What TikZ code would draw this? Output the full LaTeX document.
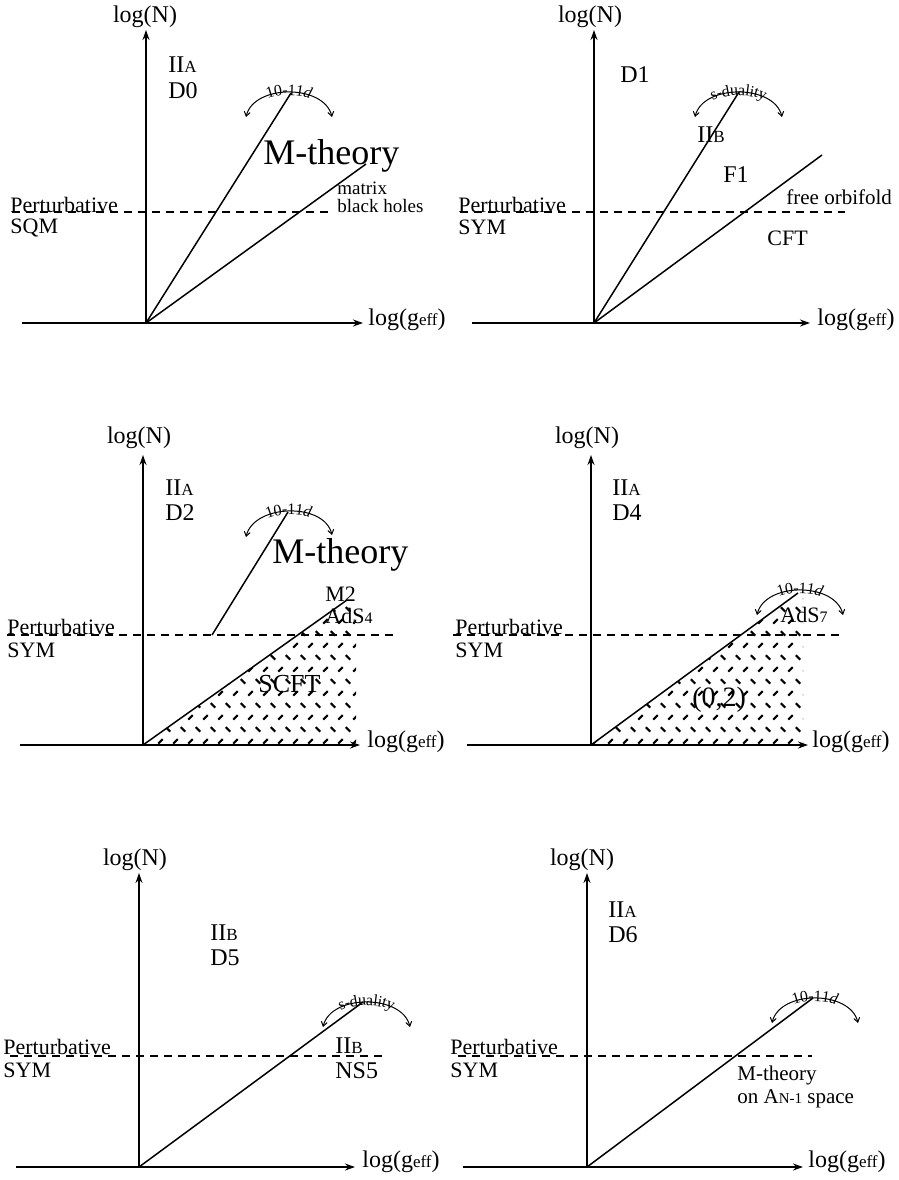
\documentclass[tikz,border=0pt]{standalone}
\usepackage{fontspec}
\setmainfont{Liberation Serif}
\usetikzlibrary{arrows.meta, patterns, decorations.text}

\newcommand{\lowsub}[2][8.5]{{\fontsize{#1}{#1}\selectfont #2}}

\pgfdeclarepatternformonly{dashcross}{\pgfqpoint{-1pt}{-1pt}}{\pgfqpoint{8.5pt}{13pt}}{\pgfqpoint{7.5pt}{12pt}}{%
  \pgfsetlinewidth{1pt}
  \pgfpathmoveto{\pgfqpoint{0.4pt}{10.4pt}}\pgfpathlineto{\pgfqpoint{2.6pt}{8.2pt}}
  \pgfpathmoveto{\pgfqpoint{4.15pt}{2.2pt}}\pgfpathlineto{\pgfqpoint{6.35pt}{4.4pt}}
  \pgfusepath{stroke}}

\tikzset{
  axis/.style={line width=0.75pt, -{Stealth[length=5pt,width=3.5pt]}},
  regime/.style={line width=0.75pt},
  pert/.style={line width=0.6pt, dash pattern=on 4pt off 3pt},
  duality/.style={line width=0.5pt, {Straight Barb[length=2.2pt,width=3pt]}-{Straight Barb[length=2.2pt,width=3pt]}},
  dualtext/.style={decorate, decoration={text along path, text align=center, raise=-1.5pt}},
  axislabel/.style={inner sep=0pt, font=\fontsize{12}{14}\selectfont},
  pertlabel/.style={inner sep=0pt, font=\fontsize{11}{13}\selectfont, anchor=base west},
  region/.style={inner sep=0pt, font=\fontsize{12}{14}\selectfont, anchor=base west},
  note/.style={inner sep=0pt, font=\fontsize{9.5}{11}\selectfont, anchor=base west},
  bigregion/.style={inner sep=0pt, font=\fontsize{18}{20}\selectfont, anchor=base west},
}

\begin{document}
\begin{tikzpicture}[x=0.5pt, y=-0.5pt]
    \useasboundingbox (0,0) rectangle (899,1180);

    % D0
    \coordinate (o1) at (146,323);
    \coordinate (top1) at (146,30);
    \coordinate (xa1) at (22,323);
    \coordinate (xb1) at (363,323);
    \coordinate (ea1) at (291,93);
    \coordinate (eb1) at (366,164);
    \coordinate (pa1) at (12,212);
    \coordinate (pb1) at (333,212);
    \coordinate (l1) at (246,117);
    \coordinate (r1) at (332,117);
    \draw[axis] (o1) -- (top1);
    \draw[axis] (xa1) -- (xb1);
    \draw[regime] (o1) -- (ea1);
    \draw[regime] (o1) -- (eb1);
    \draw[pert] (pa1) -- (pb1);
    \draw[duality] (l1) .. controls +(8,-33) and +(-8,-33) .. (r1);
    \path[dualtext, decoration={text={|\fontsize{8}{9}\selectfont|10-11|\fontsize{8}{9}\selectfont\itshape|d}}] (l1) .. controls +(8,-33) and +(-8,-33) .. (r1);
    \node[axislabel, anchor=base] (ny1) at (145,22) {log(N)};
    \node[axislabel, anchor=base west] (nx1) at (368,325) {log(g\lowsub{eff})};
    \node[region] (t1) at (168,72) {II\lowsub{A}};
    \node[region] (d1) at (168,98) {D0};
    \node[bigregion] (m1) at (263,164) {M-theory};
    \node[note] (bh1) at (337,194) {matrix};
    \node[note] (bh1b) at (337,212) {black holes};
    \node[pertlabel] (pt1) at (10,212) {Perturbative};
    \node[pertlabel] (ps1) at (10,233) {SQM};

    % D1
    \coordinate (o2) at (594,323);
    \coordinate (top2) at (594,30);
    \coordinate (xa2) at (472,323);
    \coordinate (xb2) at (810,323);
    \coordinate (ea2) at (739,92);
    \coordinate (eb2) at (822,155);
    \coordinate (pa2) at (460,212);
    \coordinate (pb2) at (845,212);
    \coordinate (l2) at (695,117);
    \coordinate (r2) at (782,117);
    \draw[axis] (o2) -- (top2);
    \draw[axis] (xa2) -- (xb2);
    \draw[regime] (o2) -- (ea2);
    \draw[regime] (o2) -- (eb2);
    \draw[pert] (pa2) -- (pb2);
    \draw[duality] (l2) .. controls +(8,-33) and +(-8,-33) .. (r2);
    \path[dualtext, decoration={text={|\fontsize{8}{9}\selectfont|s-duality}}] (l2) .. controls +(8,-33) and +(-8,-33) .. (r2);
    \node[axislabel, anchor=base] (ny2) at (590,22) {log(N)};
    \node[axislabel, anchor=base west] (nx2) at (817,325) {log(g\lowsub{eff})};
    \node[region] (d2) at (620,82) {D1};
    \node[region] (t2) at (697,142) {II\lowsub{B}};
    \node[region] (f2) at (723,182) {F1};
    \node[note, font=\fontsize{10.5}{12}\selectfont] (fo2) at (786,204) {free orbifold};
    \node[region, font=\fontsize{11}{13}\selectfont] (c2) at (767,245) {CFT};
    \node[pertlabel] (pt2) at (458,212) {Perturbative};
    \node[pertlabel] (ps2) at (458,234) {SYM};

    % D2
    \coordinate (o3) at (143,745);
    \coordinate (top3) at (143,455);
    \coordinate (xa3) at (20,745);
    \coordinate (xb3) at (360,745);
    \coordinate (sa3) at (212,635);
    \coordinate (ea3) at (288,512);
    \coordinate (eb3) at (347,600);
    \coordinate (ha3) at (356,600);
    \coordinate (hb3) at (356,745);
    \coordinate (pa3) at (7,635);
    \coordinate (pb3) at (395,635);
    \coordinate (l3) at (246,537);
    \coordinate (r3) at (332,535);
    \fill[pattern=dashcross] (o3) -- (eb3) -- (ha3) -- (hb3) -- cycle;
    \draw[axis] (o3) -- (top3);
    \draw[axis] (xa3) -- (xb3);
    \draw[regime] (sa3) -- (ea3);
    \draw[regime] (o3) -- (eb3);
    \draw[pert] (pa3) -- (pb3);
    \draw[duality] (l3) .. controls +(8,-33) and +(-8,-33) .. (r3);
    \path[dualtext, decoration={text={|\fontsize{8}{9}\selectfont|10-11|\fontsize{8}{9}\selectfont\itshape|d}}] (l3) .. controls +(8,-33) and +(-8,-33) .. (r3);
    \node[axislabel, anchor=base] (ny3) at (139,443) {log(N)};
    \node[axislabel, anchor=base west] (nx3) at (367,747) {log(g\lowsub{eff})};
    \node[region] (t3) at (165,495) {II\lowsub{A}};
    \node[region] (d3) at (165,520) {D2};
    \node[bigregion] (m3) at (272,563) {M-theory};
    \node[region, font=\fontsize{11}{13}\selectfont] (a3) at (325,601) {M2};
    \node[region, font=\fontsize{11}{13}\selectfont] (a3b) at (325,623) {AdS\lowsub[8]{4}};
    \node[region, font=\fontsize{13}{15}\selectfont] (s3) at (258,692) {SCFT};
    \node[pertlabel] (pt3) at (7,634) {Perturbative};
    \node[pertlabel] (ps3) at (7,657) {SYM};

    % D4
    \coordinate (o4) at (591,745);
    \coordinate (top4) at (591,455);
    \coordinate (xa4) at (467,745);
    \coordinate (xb4) at (808,745);
    \coordinate (eb4) at (798,593);
    \coordinate (ha4) at (803,593);
    \coordinate (hb4) at (803,745);
    \coordinate (pa4) at (453,635);
    \coordinate (pb4) at (842,635);
    \coordinate (l4) at (757,615);
    \coordinate (r4) at (843,615);
    \fill[pattern=dashcross] (o4) -- (eb4) -- (ha4) -- (hb4) -- cycle;
    \draw[axis] (o4) -- (top4);
    \draw[axis] (xa4) -- (xb4);
    \draw[regime] (o4) -- (eb4);
    \draw[pert] (pa4) -- (pb4);
    \draw[duality] (l4) .. controls +(8,-33) and +(-8,-33) .. (r4);
    \path[dualtext, decoration={text={|\fontsize{8}{9}\selectfont|10-11|\fontsize{8}{9}\selectfont\itshape|d}}] (l4) .. controls +(8,-33) and +(-8,-33) .. (r4);
    \node[axislabel, anchor=base] (ny4) at (587,443) {log(N)};
    \node[axislabel, anchor=base west] (nx4) at (812,747) {log(g\lowsub{eff})};
    \node[region] (t4) at (612,495) {II\lowsub{A}};
    \node[region] (d4) at (612,520) {D4};
    \node[region, font=\fontsize{11}{13}\selectfont] (a4) at (780,622) {AdS\lowsub[8]{7}};
    \node[region, font=\fontsize{14}{16}\selectfont] (z4) at (692,706) {(0,2)};
    \node[pertlabel] (pt4) at (455,634) {Perturbative};
    \node[pertlabel] (ps4) at (455,657) {SYM};

    % D5
    \coordinate (o5) at (139,1167);
    \coordinate (top5) at (139,873);
    \coordinate (xa5) at (16,1167);
    \coordinate (xb5) at (355,1167);
    \coordinate (eb5) at (363,1002);
    \coordinate (pa5) at (10,1056);
    \coordinate (pb5) at (387,1056);
    \coordinate (l5) at (323,1027);
    \coordinate (r5) at (410,1027);
    \draw[axis] (o5) -- (top5);
    \draw[axis] (xa5) -- (xb5);
    \draw[regime] (o5) -- (eb5);
    \draw[pert] (pa5) -- (pb5);
    \draw[duality] (l5) .. controls +(8,-33) and +(-8,-33) .. (r5);
    \path[dualtext, decoration={text={|\fontsize{8}{9}\selectfont|s-duality}}] (l5) .. controls +(8,-33) and +(-8,-33) .. (r5);
    \node[axislabel, anchor=base] (ny5) at (135,865) {log(N)};
    \node[axislabel, anchor=base west] (nx5) at (362,1167) {log(g\lowsub{eff})};
    \node[region] (t5) at (210,940) {II\lowsub{B}};
    \node[region] (d5) at (210,965) {D5};
    \node[region] (t5b) at (335,1053) {II\lowsub{B}};
    \node[region] (n5) at (335,1078) {NS5};
    \node[pertlabel] (pt5) at (3,1054) {Perturbative};
    \node[pertlabel] (ps5) at (3,1077) {SYM};

    % D6
    \coordinate (o6) at (587,1167);
    \coordinate (top6) at (587,873);
    \coordinate (xa6) at (463,1167);
    \coordinate (xb6) at (803,1167);
    \coordinate (eb6) at (813,998);
    \coordinate (pa6) at (458,1056);
    \coordinate (pb6) at (812,1056);
    \coordinate (l6) at (772,1023);
    \coordinate (r6) at (858,1023);
    \draw[axis] (o6) -- (top6);
    \draw[axis] (xa6) -- (xb6);
    \draw[regime] (o6) -- (eb6);
    \draw[pert] (pa6) -- (pb6);
    \draw[duality] (l6) .. controls +(8,-33) and +(-8,-33) .. (r6);
    \path[dualtext, decoration={text={|\fontsize{8}{9}\selectfont|10-11|\fontsize{8}{9}\selectfont\itshape|d}}] (l6) .. controls +(8,-33) and +(-8,-33) .. (r6);
    \node[axislabel, anchor=base] (ny6) at (582,865) {log(N)};
    \node[axislabel, anchor=base west] (nx6) at (808,1167) {log(g\lowsub{eff})};
    \node[region] (t6) at (608,917) {II\lowsub{A}};
    \node[region] (d6) at (608,942) {D6};
    \node[note, font=\fontsize{10.5}{12}\selectfont] (m6) at (737,1080) {M-theory};
    \node[note, font=\fontsize{10.5}{12}\selectfont] (m6b) at (737,1103) {on A\lowsub[7.5]{N-1} space};
    \node[pertlabel] (pt6) at (450,1054) {Perturbative};
    \node[pertlabel] (ps6) at (450,1077) {SYM};
  \end{tikzpicture}
\end{document}
